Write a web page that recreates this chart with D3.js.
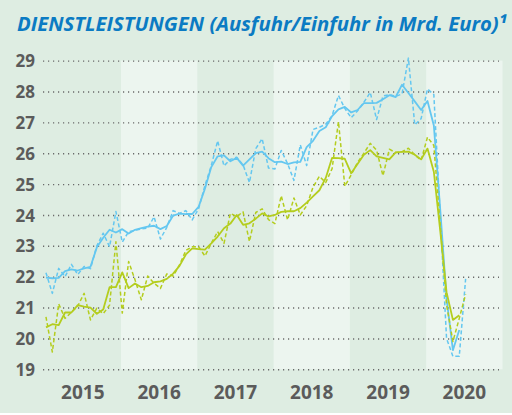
<!DOCTYPE html>
<html>
<head>
<meta charset="utf-8">
<script src="https://cdn.jsdelivr.net/npm/d3@7"></script>
<style>
  html, body { margin: 0; padding: 0; background: #ffffff; }
  svg { display: block; }
</style>
</head>
<body>
<svg id="chart" width="512" height="415"></svg>
<script>
// Monthly services trade, Jan 2015 onwards (billion euro)
const years = ["2015", "2016", "2017", "2018", "2019", "2020"];
const yTicks = [19, 20, 21, 22, 23, 24, 25, 26, 27, 28, 29];

// Exports, unadjusted (dashed)
const exportsRaw = [
  22.13, 21.46, 22.27, 22.00, 22.40, 22.07, 22.33, 22.26, 23.00, 23.41, 22.97, 24.11,
  23.12, 23.46, 23.50, 23.55, 23.57, 23.94, 23.22, 23.60, 24.14, 24.05, 24.14, 23.84,
  24.20, 24.95, 25.60, 26.40, 25.59, 25.80, 25.87, 25.62, 25.05, 26.15, 26.47, 25.52,
  25.49, 26.09, 25.66, 25.12, 26.27, 25.60, 26.77, 26.84, 26.94, 27.22, 27.87, 27.45,
  27.15, 27.37, 27.65, 27.97, 27.09, 27.85, 27.90, 27.84, 27.92, 29.08, 26.92, 27.12,
  28.08, 27.90, 24.00, 20.00, 19.42, 19.42, 21.93
];
// Exports, seasonally adjusted (solid)
const exportsAdj = [
  21.97, 21.95, 21.96, 22.18, 22.24, 22.20, 22.27, 22.32, 22.95, 23.26, 23.52, 23.43,
  23.54, 23.40, 23.52, 23.57, 23.62, 23.65, 23.54, 23.64, 23.98, 24.04, 24.03, 24.03,
  24.26, 24.85, 25.55, 25.90, 25.93, 25.74, 25.85, 25.60, 25.80, 26.00, 26.05, 25.84,
  25.71, 25.73, 25.65, 25.70, 25.72, 26.20, 26.40, 26.72, 26.84, 27.20, 27.42, 27.50,
  27.32, 27.40, 27.62, 27.62, 27.63, 27.75, 27.88, 27.82, 28.22, 27.95, 27.68, 27.40,
  27.69, 26.90, 24.20, 21.30, 19.62, 20.27
];
// Imports, unadjusted (dashed)
const importsRaw = [
  20.70, 19.56, 21.12, 20.65, 20.85, 21.05, 21.46, 20.60, 20.98, 20.80, 21.08, 23.13,
  20.82, 22.49, 21.90, 21.25, 22.02, 21.79, 21.62, 22.09, 22.02, 22.38, 22.85, 22.97,
  22.97, 22.67, 23.08, 23.46, 23.08, 24.05, 23.95, 24.10, 23.14, 24.08, 24.20, 23.85,
  23.72, 24.62, 23.84, 24.55, 24.00, 24.30, 24.90, 25.25, 25.05, 25.50, 27.02, 24.93,
  25.30, 25.70, 26.00, 26.32, 26.10, 25.27, 26.13, 26.02, 26.05, 26.16, 25.95, 25.77,
  26.52, 26.25, 23.70, 21.10, 19.90, 20.65, 21.43
];
// Imports, seasonally adjusted (solid)
const importsAdj = [
  20.36, 20.46, 20.43, 20.84, 20.84, 21.08, 21.03, 21.00, 20.80, 20.94, 21.66, 21.66,
  22.14, 21.63, 21.78, 21.66, 21.70, 21.82, 21.85, 21.93, 22.10, 22.35, 22.72, 22.92,
  22.89, 22.88, 23.08, 23.30, 23.57, 23.72, 24.00, 23.68, 23.73, 23.88, 24.05, 23.95,
  24.00, 24.10, 24.12, 24.12, 24.22, 24.40, 24.60, 24.80, 25.20, 25.85, 25.84, 25.82,
  25.35, 25.65, 25.95, 26.10, 25.90, 25.85, 25.80, 26.03, 26.04, 26.05, 25.95, 25.80,
  26.15, 25.40, 23.50, 21.50, 20.60, 20.75
];

const BG = "#deede2";
const BAND = "#ecf5ef";
const BLUE = "#64c7f0";
const GREEN = "#b4cd1e";
const TEXT = "#5b5b5b";

const svg = d3.select("#chart");
svg.append("rect").attr("x", 0).attr("y", 0).attr("width", 512).attr("height", 413).attr("fill", BG);

// month-based horizontal scale: 6 years of 12 months
const x = d3.scaleLinear().domain([0, 72]).range([44.7, 502.5]);
const y = d3.scaleLinear().domain([19, 29]).range([369.3, 60.6]);
const yearBand = d3.scaleBand().domain(years).range([44.7, 502.5]);

// alternating year shading
svg.append("g").selectAll("rect")
  .data(years.filter((d, i) => i % 2 === 1))
  .join("rect")
  .attr("x", d => yearBand(d))
  .attr("width", yearBand.bandwidth())
  .attr("y", y(29))
  .attr("height", y(19) - y(29))
  .attr("fill", BAND);

// y axis with dotted gridlines
const yAxis = svg.append("g")
  .attr("transform", "translate(43,0)")
  .call(d3.axisLeft(y).tickValues(yTicks).tickSize(-456).tickPadding(8).tickFormat(d3.format("d")));
yAxis.select(".domain").remove();
yAxis.selectAll(".tick line")
  .attr("stroke", "#6a6a6a")
  .attr("stroke-width", 1.4)
  .attr("stroke-dasharray", "1.2,3.8");
yAxis.selectAll(".tick text")
  .attr("fill", TEXT)
  .attr("font-family", "'Open Sans', sans-serif")
  .attr("font-weight", "700")
  .attr("font-size", "17px")
  .attr("dy", "0.36em");

// year labels
const xAxis = svg.append("g")
  .attr("transform", `translate(0,${y(19)})`)
  .call(d3.axisBottom(yearBand).tickSize(0).tickPadding(16));
xAxis.select(".domain").remove();
xAxis.selectAll(".tick text")
  .attr("fill", TEXT)
  .attr("font-family", "'Open Sans', sans-serif")
  .attr("font-weight", "700")
  .attr("font-size", "19px");

const line = d3.line()
  .x((d, i) => x(i + 0.2))
  .y(d => y(d));

const series = [
  { values: exportsRaw, color: BLUE, dashed: true },
  { values: exportsAdj, color: BLUE, dashed: false },
  { values: importsRaw, color: GREEN, dashed: true },
  { values: importsAdj, color: GREEN, dashed: false }
];

svg.append("g").selectAll("path")
  .data(series)
  .join("path")
  .attr("d", d => line(d.values))
  .attr("fill", "none")
  .attr("stroke", d => d.color)
  .attr("stroke-width", d => d.dashed ? 1.5 : 1.8)
  .attr("stroke-dasharray", d => d.dashed ? "4,2.5" : null)
  .attr("stroke-linejoin", "round");

// title
svg.append("text")
  .attr("x", 17)
  .attr("y", 31)
  .attr("fill", "#0b7bc3")
  .attr("font-family", "'Open Sans', sans-serif")
  .attr("font-weight", "700")
  .attr("font-style", "italic")
  .attr("font-size", "20.3px")
  .text("DIENSTLEISTUNGEN (Ausfuhr/Einfuhr in Mrd. Euro)¹");
</script>
</body>
</html>
